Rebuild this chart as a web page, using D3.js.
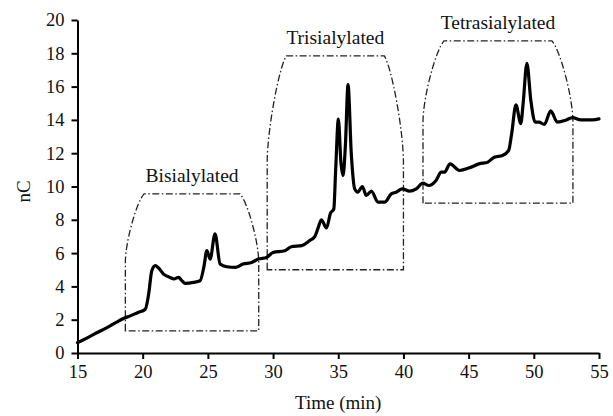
<!DOCTYPE html>
<html>
<head>
<meta charset="utf-8">
<script src="https://cdn.jsdelivr.net/npm/d3@7"></script>
<style>
  body { margin: 0; background: #fff; }
  svg { display: block; font-family: "Liberation Serif", "DejaVu Serif", serif; }
</style>
</head>
<body>
<svg id="chart" width="613" height="416"></svg>
<script>
// chromatogram trace
const timeMin = [15.0, 15.6, 16.25, 17.0, 17.5, 18.0, 18.4, 19.05, 19.6, 20.2, 20.45, 20.7, 20.97, 21.2, 21.6,
  22.1, 22.4, 22.75, 23.0, 23.26, 23.9, 24.4, 24.7, 24.92, 25.17, 25.55, 25.94, 26.45, 27.1, 27.7,
  28.36, 28.87, 29.5, 30.0, 30.9, 31.4, 32.2, 32.8, 33.2, 33.45, 33.7, 34.1, 34.4, 34.66, 34.8,
  35.01, 35.2, 35.37, 35.55, 35.75, 36.0, 36.26, 36.5, 36.85, 37.15, 37.54, 38.05, 38.56, 39.07, 39.45,
  39.91, 40.47, 40.98, 41.49, 41.95, 42.5, 42.9, 43.15, 43.58, 44.3, 45.06, 45.8, 46.46, 46.97, 47.6,
  48.07, 48.3, 48.63, 49.0, 49.18, 49.47, 49.77, 50.1, 50.4, 50.8, 51.3, 51.8, 52.45, 52.96, 53.6,
  54.5, 55.0];
const signalNC = [0.62, 0.85, 1.12, 1.42, 1.63, 1.85, 2.03, 2.23, 2.42, 2.63, 3.5, 4.94, 5.25, 5.12, 4.74,
  4.54, 4.45, 4.54, 4.35, 4.18, 4.24, 4.34, 5.2, 6.15, 5.64, 7.15, 5.34, 5.18, 5.14, 5.34,
  5.44, 5.64, 5.74, 6.04, 6.14, 6.38, 6.45, 6.75, 6.99, 7.5, 8.0, 7.51, 8.39, 8.66, 10.96,
  14.05, 11.5, 10.66, 12.5, 16.12, 11.97, 9.86, 9.66, 10.0, 9.46, 9.72, 9.06, 9.06, 9.56, 9.66,
  9.86, 9.72, 9.86, 10.2, 10.06, 10.36, 10.86, 10.86, 11.36, 10.96, 11.12, 11.36, 11.46, 11.76, 11.86,
  12.17, 13.17, 14.9, 13.78, 14.98, 17.4, 15.18, 13.87, 13.87, 13.73, 14.54, 13.87, 13.98, 14.14, 14.0,
  14.0, 14.06];

// sialylation regions
const regionNames = ["Bisialylated", "Trisialylated", "Tetrasialylated"];
const regionStart = [18.67, 29.55, 41.5];
const regionEnd = [28.9, 40.0, 53.0];
const regionLow = [1.33, 5.0, 9.0];
const regionHigh = [9.56, 17.85, 18.75];

const xTicks = [15, 20, 25, 30, 35, 40, 45, 50, 55];
const yTicks = [0, 2, 4, 6, 8, 10, 12, 14, 16, 18, 20];

const svg = d3.select("#chart");
const width = 613;
const height = 416;
const margin = { top: 20, right: 14, bottom: 63, left: 77.5 };

const x = d3.scaleLinear().domain([15, 55]).range([margin.left, width - margin.right]);
const y = d3.scaleLinear().domain([0, 20]).range([height - margin.bottom, margin.top]);

// region outlines: straight lower sides, slanted rounded shoulders on top
regionNames.forEach((name, i) => {
  const x0 = x(regionStart[i]), x1 = x(regionEnd[i]);
  const yb = y(regionLow[i]), yt = y(regionHigh[i]);
  const ym = yb - (yb - yt) * 0.5;
  const inset = (x1 - x0) * 0.14;
  const h = ym - yt;
  const p = d3.path();
  p.moveTo(x0, yb);
  p.lineTo(x0, ym);
  p.bezierCurveTo(x0, ym - h * 0.3, x0 + inset * 0.6, yt + h * 0.12, x0 + inset, yt);
  p.lineTo(x1 - inset, yt);
  p.bezierCurveTo(x1 - inset * 0.6, yt + h * 0.12, x1, ym - h * 0.3, x1, ym);
  p.lineTo(x1, yb);
  p.closePath();
  svg.append("path")
    .attr("d", p.toString())
    .attr("fill", "none")
    .attr("stroke", "#222")
    .attr("stroke-width", 1.3)
    .attr("stroke-dasharray", "7,2.5,1.5,2.5");

  svg.append("text")
    .attr("x", (x0 + x1) / 2)
    .attr("y", yt - 12)
    .attr("text-anchor", "middle")
    .attr("font-size", 19.5)
    .attr("fill", "#111")
    .text(name);
});

// axes
const xAxis = svg.append("g")
  .attr("transform", `translate(0,${y(0)})`)
  .call(d3.axisBottom(x).tickValues(xTicks).tickSize(6).tickSizeOuter(0).tickPadding(6));
const yAxis = svg.append("g")
  .attr("transform", `translate(${x(15)},0)`)
  .call(d3.axisLeft(y).tickValues(yTicks).tickSize(6).tickSizeOuter(0).tickPadding(7));

[xAxis, yAxis].forEach(g => {
  g.select(".domain").attr("stroke", "#000").attr("stroke-width", 2);
  g.selectAll(".tick line").attr("stroke", "#000").attr("stroke-width", 2);
  g.selectAll(".tick text")
    .attr("font-family", "Liberation Serif, serif")
    .attr("font-size", 18.5)
    .attr("fill", "#111");
});

// trace
const trace = timeMin.map((t, i) => ({ t, v: signalNC[i] }));
const line = d3.line()
  .x(d => x(d.t))
  .y(d => y(d.v))
  .curve(d3.curveMonotoneX);

svg.append("path")
  .datum(trace)
  .attr("fill", "none")
  .attr("stroke", "#000")
  .attr("stroke-width", 3.2)
  .attr("stroke-linejoin", "round")
  .attr("stroke-linecap", "round")
  .attr("d", line);

// axis titles
svg.append("text")
  .attr("transform", `translate(30,${(y(0) + y(20)) / 2 + 5}) rotate(-90)`)
  .attr("text-anchor", "middle")
  .attr("font-size", 19)
  .attr("fill", "#111")
  .text("nC");

svg.append("text")
  .attr("x", x(35))
  .attr("y", 409)
  .attr("text-anchor", "middle")
  .attr("font-size", 19)
  .attr("fill", "#111")
  .text("Time (min)");
</script>
</body>
</html>
